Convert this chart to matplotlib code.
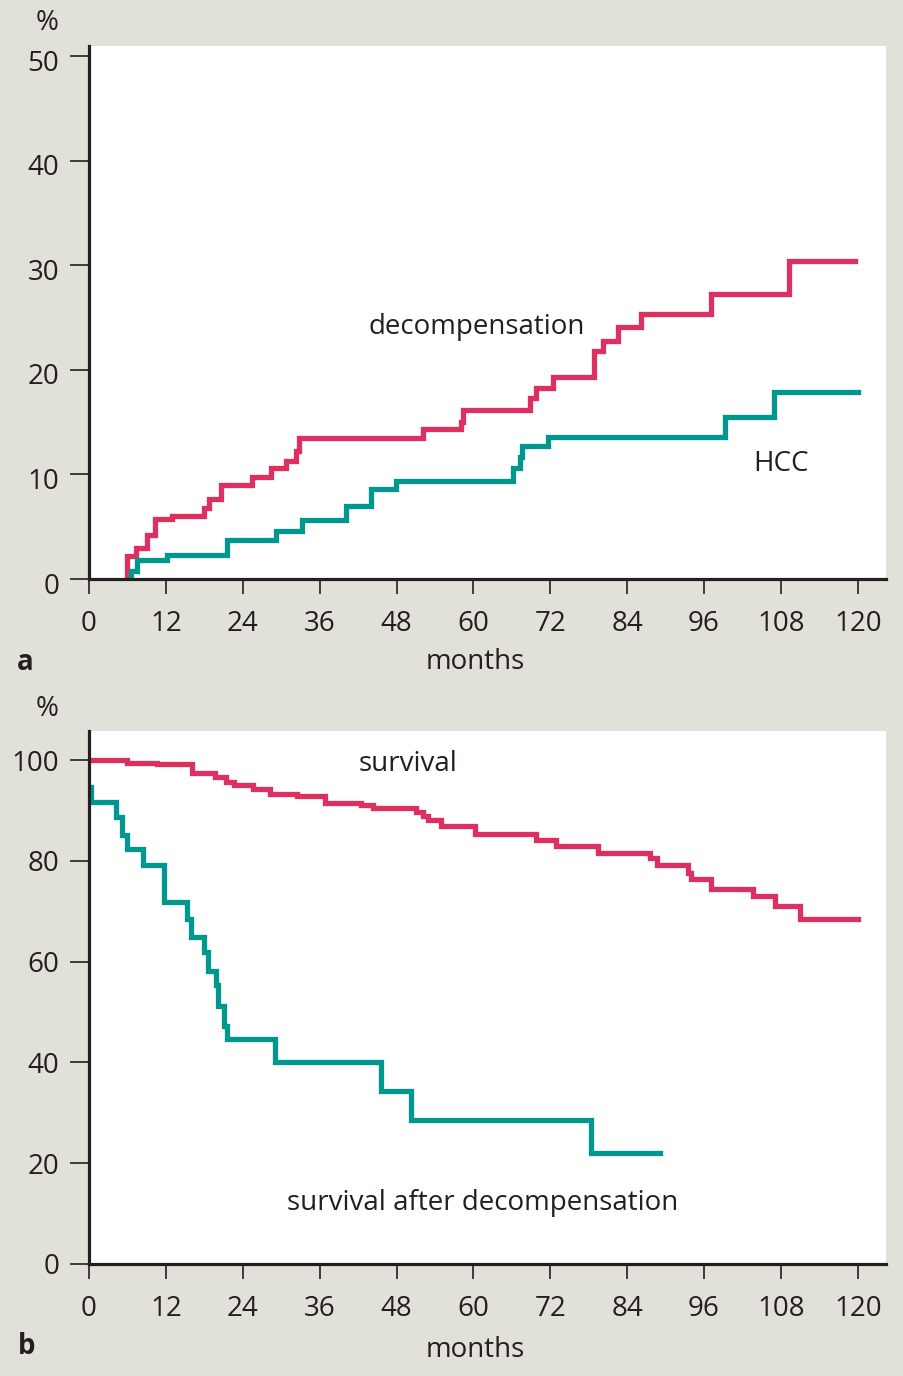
import matplotlib
matplotlib.use("Agg")
import matplotlib.pyplot as plt
import matplotlib.transforms as mtransforms

# panel a: cumulative incidence (%)
decomp_months = [5.9, 5.9, 7.3, 9.1, 10.3, 13.0, 17.9, 18.75, 20.6, 25.5, 28.4, 30.8, 32.3, 32.8,
                 52.1, 58.0, 58.3, 68.9, 69.8, 72.4, 78.8, 80.2, 82.6, 86.1, 97.1, 109.3, 119.5]
decomp_pct = [0, 2.2, 3.0, 4.2, 5.7, 6.0, 6.8, 7.7, 9.0, 9.8, 10.6, 11.3, 12.2, 13.5,
              14.35, 15.05, 16.2, 17.3, 18.25, 19.3, 21.8, 22.8, 24.1, 25.4, 27.3, 30.4, 30.4]

hcc_months = [6.5, 6.5, 7.5, 12.1, 21.6, 29.2, 33.2, 40.1, 44.0, 47.9, 66.2, 67.2, 67.6, 71.6,
              99.2, 106.9, 120]
hcc_pct = [0, 0.8, 1.8, 2.3, 3.7, 4.6, 5.6, 7.0, 8.6, 9.4, 10.6, 11.7, 12.7, 13.6,
           15.5, 17.9, 17.9]

# panel b: survival (%)
surv_months = [0, 5.9, 10.6, 16.0, 19.6, 21.4, 22.6, 25.6, 28.3, 32.5, 36.8, 42.4, 44.3,
               51.1, 52.2, 52.9, 55.0, 60.2, 69.8, 72.9, 79.4, 87.6, 88.6, 93.5, 94.0,
               97.1, 103.7, 107.1, 111.0, 120]
surv_pct = [100, 99.5, 99.2, 97.5, 96.7, 95.7, 95.0, 94.2, 93.2, 92.9, 91.6, 91.1, 90.5,
            89.7, 88.9, 88.1, 86.9, 85.4, 84.1, 83.0, 81.6, 80.5, 79.3, 77.6, 76.4,
            74.5, 73.0, 71.0, 68.5, 68.5]

after_months = [0.3, 0.3, 4.2, 5.1, 5.9, 8.5, 11.7, 15.3, 15.9, 18.0, 18.6, 19.8, 20.2,
                21.1, 21.5, 29.1, 45.5, 50.3, 78.4, 89.1]
after_pct = [94.7, 91.7, 88.7, 85.1, 82.3, 79.3, 71.8, 68.5, 64.9, 61.9, 58.1, 55.3, 51.3,
             47.3, 44.6, 40.0, 34.4, 28.6, 22.0, 22.0]

month_ticks = list(range(0, 121, 12))

RED = "#dc3160"
TEAL = "#00978f"
BG = "#e2e1d9"
INK = "#231f20"
FS = 20

plt.rcParams["font.family"] = ["Open Sans", "DejaVu Sans"]
plt.rcParams["text.color"] = INK

fig = plt.figure(figsize=(9.04, 13.76), dpi=100, facecolor=BG)


def style_axes(ax, ylim, yticks, ylab_shift=0):
    ax.set_xlim(0, 124.4)
    ax.set_ylim(*ylim)
    ax.set_xticks(month_ticks)
    ax.set_yticks(yticks)
    for side in ["top", "right"]:
        ax.spines[side].set_visible(False)
    for side in ["left", "bottom"]:
        ax.spines[side].set_linewidth(2.3)
        ax.spines[side].set_color(INK)
    ax.tick_params(axis="y", direction="out", length=13.5, width=1.2, color=INK,
                   labelsize=FS, labelcolor=INK, pad=8)
    ax.tick_params(axis="x", direction="out", length=11, width=1.2, color=INK,
                   labelsize=FS, labelcolor=INK, pad=11)
    ax.set_facecolor("white")
    if ylab_shift:
        shift = mtransforms.ScaledTranslation(0, ylab_shift / 100, fig.dpi_scale_trans)
        for lab in ax.get_yticklabels():
            lab.set_transform(lab.get_transform() + shift)


ax1 = fig.add_axes([89 / 904, 1 - 579 / 1376, 797 / 904, 533 / 1376])
ax1.step(decomp_months, decomp_pct, where="post", color=RED, lw=3.8, solid_joinstyle="miter")
ax1.step(hcc_months, hcc_pct, where="post", color=TEAL, lw=3.8, solid_joinstyle="miter")
style_axes(ax1, (0, 51), range(0, 51, 10), ylab_shift=-4)
ax1.text(60.5, 24.1, "decompensation", fontsize=FS, ha="center", va="center")
ax1.text(108.0, 11.0, "HCC", fontsize=FS, ha="center", va="center")

ax2 = fig.add_axes([89 / 904, 1 - 1264 / 1376, 797 / 904, 533 / 1376])
ax2.step(surv_months, surv_pct, where="post", color=RED, lw=3.8, solid_joinstyle="miter")
ax2.step(after_months, after_pct, where="post", color=TEAL, lw=3.8, solid_joinstyle="miter")
style_axes(ax2, (0, 105.8), range(0, 101, 20))
ax2.text(49.8, 99.3, "survival", fontsize=FS, ha="center", va="center")
ax2.text(61.5, 12.2, "survival after decompensation", fontsize=FS, ha="center", va="center")

fig.text(47 / 904, 1 - 23 / 1376, "%", fontsize=FS, ha="center", va="center")
fig.text(47 / 904, 1 - 709 / 1376, "%", fontsize=FS, ha="center", va="center")
fig.text(475 / 904, 1 - 662 / 1376, "months", fontsize=FS, ha="center", va="center")
fig.text(475 / 904, 1 - 1350 / 1376, "months", fontsize=FS, ha="center", va="center")
fig.text(25 / 904, 1 - 662 / 1376, "a", fontsize=FS, fontweight="bold", ha="center", va="center")
fig.text(27 / 904, 1 - 1347 / 1376, "b", fontsize=FS, fontweight="bold", ha="center", va="center")

fig.savefig("out.png", dpi=100, facecolor=BG)
